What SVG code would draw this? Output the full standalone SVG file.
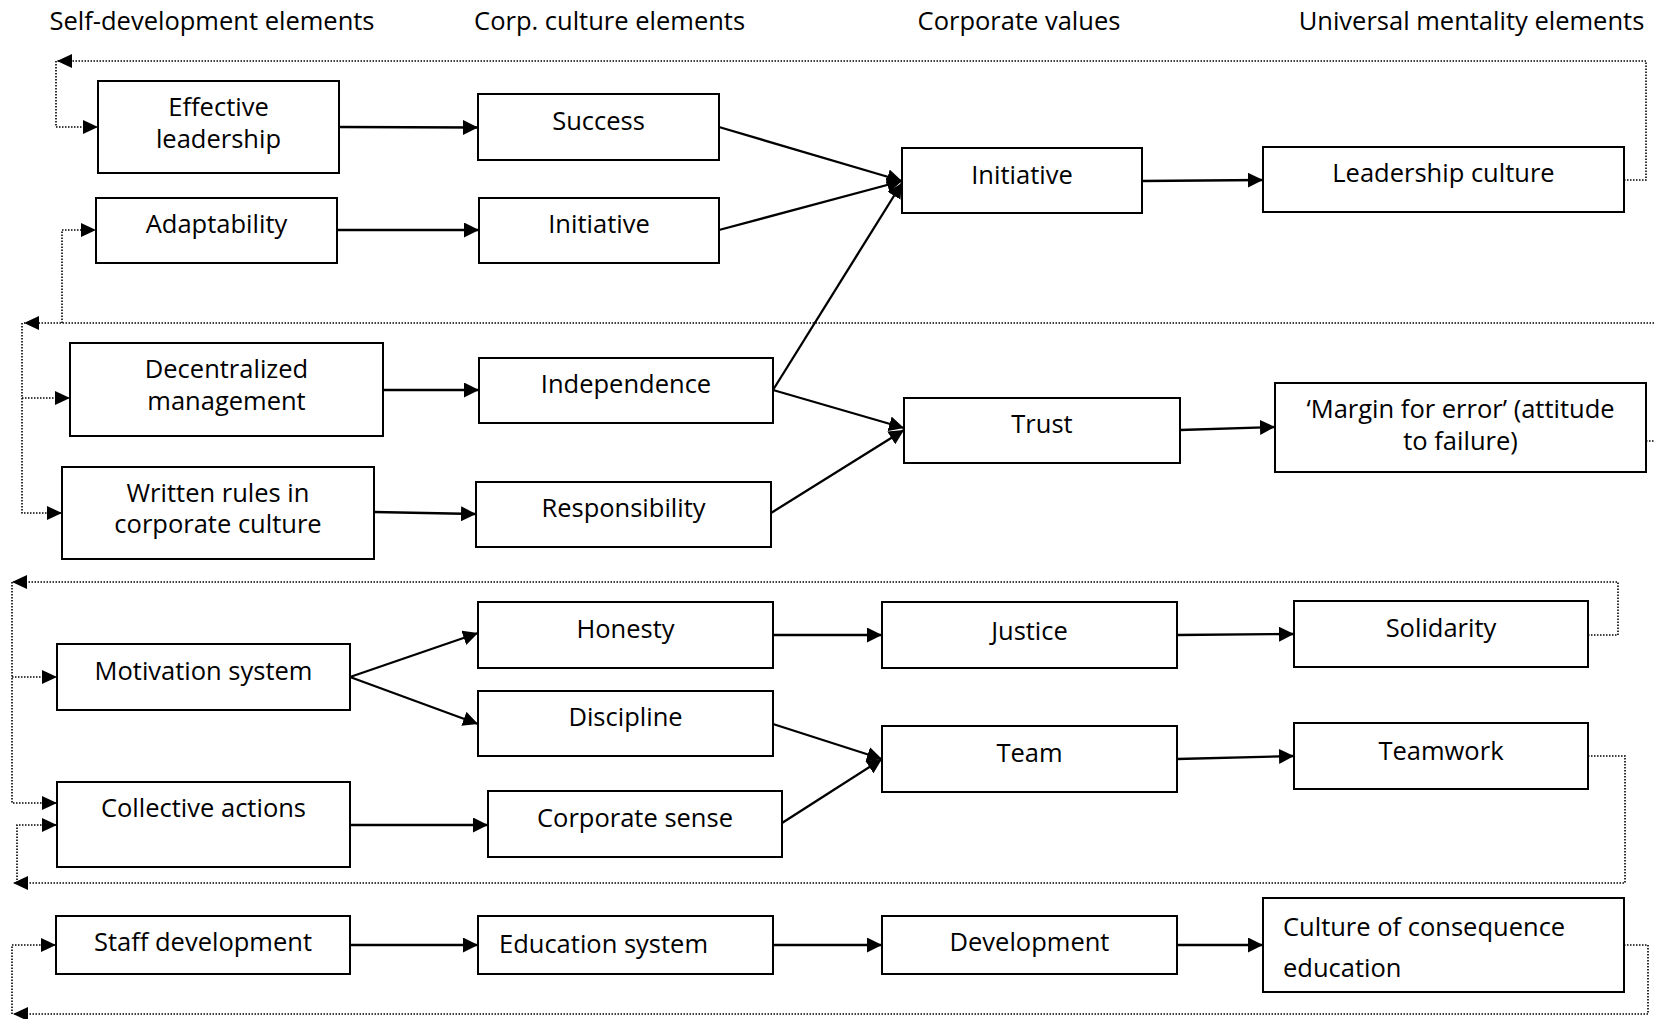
<svg xmlns="http://www.w3.org/2000/svg" width="1654" height="1019" viewBox="0 0 1654 1019">
<style>
.box{fill:#fff;stroke:#000;stroke-width:2}
.t{font-family:"Open Sans","Liberation Sans",sans-serif;font-size:25.5px;fill:#000;text-anchor:middle}
.tl{text-anchor:start}
.c{fill:none;stroke:#000;stroke-width:2.3}
.d{fill:none;stroke:#000;stroke-width:1.6;stroke-dasharray:1.5 1.5}
</style>
<defs>
<marker id="ah" markerUnits="userSpaceOnUse" markerWidth="16" markerHeight="15" refX="15" refY="7.5" orient="auto" viewBox="0 0 16 15"><path d="M0,0 L15,7.5 L0,15 z" fill="#000"/></marker>
<marker id="ad" markerUnits="userSpaceOnUse" markerWidth="16" markerHeight="14" refX="15" refY="7" orient="auto" viewBox="0 0 16 14"><path d="M0,0 L15,7 L0,14 z" fill="#000"/></marker>
</defs>
<rect width="1654" height="1019" fill="#fff"/>
<g id="titles">
<text class="t" x="212" y="29.5">Self-development elements</text>
<text class="t" x="609.6" y="29.5">Corp. culture elements</text>
<text class="t" x="1019" y="29.5">Corporate values</text>
<text class="t" x="1471.5" y="29.5">Universal mentality elements</text>
</g>
<g id="connectors">
<line class="c" x1="339" y1="127" x2="478" y2="127.5" marker-end="url(#ah)"/>
<line class="c" x1="337" y1="230" x2="479" y2="230" marker-end="url(#ah)"/>
<line class="c" x1="719" y1="127" x2="902" y2="181" marker-end="url(#ah)"/>
<line class="c" x1="719" y1="230" x2="902" y2="181" marker-end="url(#ah)"/>
<line class="c" x1="773" y1="390" x2="902" y2="183" marker-end="url(#ah)"/>
<line class="c" x1="1142" y1="181" x2="1263" y2="180" marker-end="url(#ah)"/>
<line class="c" x1="383" y1="390" x2="479" y2="390" marker-end="url(#ah)"/>
<line class="c" x1="374" y1="512" x2="476" y2="514" marker-end="url(#ah)"/>
<line class="c" x1="773" y1="390" x2="904" y2="428" marker-end="url(#ah)"/>
<line class="c" x1="771" y1="513" x2="904" y2="430" marker-end="url(#ah)"/>
<line class="c" x1="1180" y1="430" x2="1275" y2="427" marker-end="url(#ah)"/>
<line class="c" x1="350" y1="677" x2="478" y2="633" marker-end="url(#ah)"/>
<line class="c" x1="350" y1="677" x2="478" y2="724" marker-end="url(#ah)"/>
<line class="c" x1="773" y1="635" x2="882" y2="635" marker-end="url(#ah)"/>
<line class="c" x1="1177" y1="635" x2="1294" y2="634" marker-end="url(#ah)"/>
<line class="c" x1="773" y1="724" x2="882" y2="759" marker-end="url(#ah)"/>
<line class="c" x1="782" y1="823" x2="882" y2="759" marker-end="url(#ah)"/>
<line class="c" x1="1177" y1="759" x2="1294" y2="756" marker-end="url(#ah)"/>
<line class="c" x1="350" y1="825" x2="488" y2="825" marker-end="url(#ah)"/>
<line class="c" x1="350" y1="945" x2="478" y2="945" marker-end="url(#ah)"/>
<line class="c" x1="773" y1="945" x2="882" y2="945" marker-end="url(#ah)"/>
<line class="c" x1="1177" y1="945" x2="1263" y2="945" marker-end="url(#ah)"/>
<path class="d" d="M1624,180 H1646 V61 H57" marker-end="url(#ad)"/>
<path class="d" d="M56,61 V127 H98" marker-end="url(#ad)"/>
<path class="d" d="M1654,323 H24" marker-end="url(#ad)"/>
<path class="d" d="M1646,441 H1654"/>
<path class="d" d="M62,323 V230 H96" marker-end="url(#ad)"/>
<path class="d" d="M22,323 V513 H62" marker-end="url(#ad)"/>
<path class="d" d="M22,398 H70" marker-end="url(#ad)"/>
<path class="d" d="M1588,635 H1618 V582 H12" marker-end="url(#ad)"/>
<path class="d" d="M12,582 V803 H57" marker-end="url(#ad)"/>
<path class="d" d="M12,677 H57" marker-end="url(#ad)"/>
<path class="d" d="M1588,756 H1625 V883 H13" marker-end="url(#ad)"/>
<path class="d" d="M17,883 V825 H57" marker-end="url(#ad)"/>
<path class="d" d="M1624,945 H1648 V1014 H13" marker-end="url(#ad)"/>
<path class="d" d="M12,1014 V945 H56" marker-end="url(#ad)"/>
</g>
<g id="n-effective-leadership"><rect class="box" x="98" y="81" width="241" height="92"/><text class="t" x="218.5" y="116">Effective</text><text class="t" x="218.5" y="148">leadership</text></g>
<g id="n-adaptability"><rect class="box" x="96" y="198" width="241" height="65"/><text class="t" x="216.5" y="233">Adaptability</text></g>
<g id="n-decentralized"><rect class="box" x="70" y="343" width="313" height="93"/><text class="t" x="226.5" y="378">Decentralized</text><text class="t" x="226.5" y="410">management</text></g>
<g id="n-written-rules"><rect class="box" x="62" y="467" width="312" height="92"/><text class="t" x="218" y="502">Written rules in</text><text class="t" x="218" y="533">corporate culture</text></g>
<g id="n-motivation"><rect class="box" x="57" y="644" width="293" height="66"/><text class="t" x="203.5" y="680">Motivation system</text></g>
<g id="n-collective"><rect class="box" x="57" y="782" width="293" height="85"/><text class="t" x="203.5" y="817">Collective actions</text></g>
<g id="n-staff"><rect class="box" x="56" y="916" width="294" height="58"/><text class="t" x="203" y="951">Staff development</text></g>
<g id="n-success"><rect class="box" x="478" y="94" width="241" height="66"/><text class="t" x="598.5" y="130">Success</text></g>
<g id="n-initiative-cc"><rect class="box" x="479" y="198" width="240" height="65"/><text class="t" x="599" y="233">Initiative</text></g>
<g id="n-independence"><rect class="box" x="479" y="358" width="294" height="65"/><text class="t" x="626" y="393">Independence</text></g>
<g id="n-responsibility"><rect class="box" x="476" y="482" width="295" height="65"/><text class="t" x="623.5" y="517">Responsibility</text></g>
<g id="n-honesty"><rect class="box" x="478" y="602" width="295" height="66"/><text class="t" x="625.5" y="638">Honesty</text></g>
<g id="n-discipline"><rect class="box" x="478" y="691" width="295" height="65"/><text class="t" x="625.5" y="726">Discipline</text></g>
<g id="n-corporate-sense"><rect class="box" x="488" y="791" width="294" height="66"/><text class="t" x="635" y="827">Corporate sense</text></g>
<g id="n-education-system"><rect class="box" x="478" y="916" width="295" height="58"/><text class="t tl" x="499" y="953">Education system</text></g>
<g id="n-initiative-cv"><rect class="box" x="902" y="148" width="240" height="65"/><text class="t" x="1022" y="184">Initiative</text></g>
<g id="n-trust"><rect class="box" x="904" y="398" width="276" height="65"/><text class="t" x="1042" y="433">Trust</text></g>
<g id="n-justice"><rect class="box" x="882" y="602" width="295" height="66"/><text class="t" x="1029.5" y="640">Justice</text></g>
<g id="n-team"><rect class="box" x="882" y="726" width="295" height="66"/><text class="t" x="1029.5" y="762">Team</text></g>
<g id="n-development"><rect class="box" x="882" y="916" width="295" height="58"/><text class="t" x="1029.5" y="951">Development</text></g>
<g id="n-leadership-culture"><rect class="box" x="1263" y="147" width="361" height="65"/><text class="t" x="1443.5" y="182">Leadership culture</text></g>
<g id="n-margin"><rect class="box" x="1275" y="383" width="371" height="89"/><text class="t" x="1460.5" y="418">‘Margin for error’ (attitude</text><text class="t" x="1460.5" y="450">to failure)</text></g>
<g id="n-solidarity"><rect class="box" x="1294" y="601" width="294" height="66"/><text class="t" x="1441" y="637">Solidarity</text></g>
<g id="n-teamwork"><rect class="box" x="1294" y="723" width="294" height="66"/><text class="t" x="1441" y="760">Teamwork</text></g>
<g id="n-culture-consequence"><rect class="box" x="1263" y="898" width="361" height="94"/><text class="t tl" x="1283" y="936">Culture of consequence</text><text class="t tl" x="1283" y="977">education</text></g>
</svg>
